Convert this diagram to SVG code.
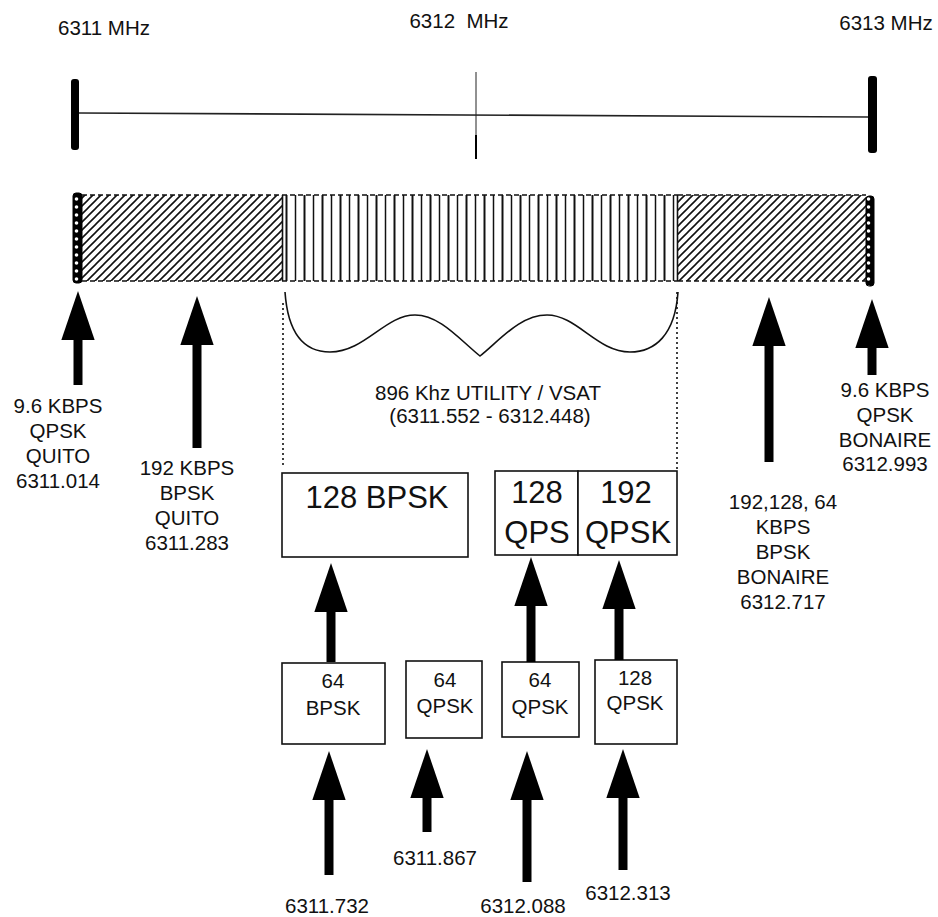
<svg xmlns="http://www.w3.org/2000/svg" width="938" height="917" viewBox="0 0 938 917">
<style>
text{font-family:"Liberation Sans",Arial,sans-serif;fill:#111;text-anchor:middle}
.s{font-size:20.5px}
.b{font-size:31px}
.box{fill:#fff;stroke:#111;stroke-width:1.6}
.shaft{stroke:#000;stroke-width:9;fill:none;marker-end:url(#head)}
.dash{stroke:#111;stroke-width:1.5;stroke-dasharray:5 3;fill:none}
.dot{stroke:#111;stroke-width:1.6;stroke-dasharray:2 3;fill:none}
</style>
<defs>
<marker id="head" markerUnits="userSpaceOnUse" markerWidth="50" markerHeight="36" refX="0" refY="16" orient="auto" viewBox="0 0 48 32">
<path d="M0,0 L47,16 L0,32 z" fill="#000"/>
</marker>
<pattern id="hatch" patternUnits="userSpaceOnUse" width="8" height="8">
<path d="M0,8 L8,0 M-2,2 L2,-2 M6,10 L10,6" stroke="#111" stroke-width="1.6"/>
</pattern>
<pattern id="vlines" patternUnits="userSpaceOnUse" x="282" y="0" width="18" height="10">
<path d="M4.5,0 V10" stroke="#111" stroke-width="2"/>
<path d="M13.5,0 V10" stroke="#111" stroke-width="1.5"/>
</pattern>
<pattern id="dots" patternUnits="userSpaceOnUse" x="0" y="195" width="9" height="8">
<rect width="9" height="8" fill="#000"/>
<circle cx="4.5" cy="4" r="1.8" fill="#fff"/>
</pattern>
</defs>

<g id="axis">
<line x1="79" y1="113" x2="868" y2="117" stroke="#222" stroke-width="1.6"/>
<rect x="71" y="79" width="8" height="71" rx="3" fill="#000"/>
<rect x="868" y="76" width="9" height="77" rx="3" fill="#000"/>
<line x1="476" y1="72" x2="476" y2="159" stroke="#222" stroke-width="1"/>
<line x1="476" y1="135" x2="476" y2="159" stroke="#000" stroke-width="2"/>
<text class="s" x="104" y="35">6311 MHz</text>
<text class="s" x="459" y="28" xml:space="preserve">6312  MHz</text>
<text class="s" x="886" y="30">6313 MHz</text>
</g>

<g id="band">
<rect x="82" y="195" width="200" height="86" fill="url(#hatch)"/>
<path class="dash" d="M82,195 H282 M82,281 H282"/>
<rect x="282" y="195" width="396" height="86" fill="url(#vlines)"/>
<path class="dash" d="M282,195 H678 M282,281 H678"/>
<line x1="282.5" y1="195" x2="282.5" y2="281" stroke="#111" stroke-width="1.6"/>
<line x1="677.5" y1="195" x2="677.5" y2="281" stroke="#111" stroke-width="1.6"/>
<rect x="678" y="195" width="188" height="86" fill="url(#hatch)"/>
<path class="dash" d="M678,195 H866 M678,281 H866"/>
<rect x="73" y="193" width="9" height="90" rx="3" fill="url(#dots)" stroke="#000" stroke-width="1"/>
<rect x="866" y="196" width="8" height="90" rx="3" fill="url(#dots)" stroke="#000" stroke-width="1"/>
</g>

<g id="utility">
<path d="M285,292 C288,335 305,352 330,352 C365,352 385,315 415,315 C440,315 460,340 480,356 C500,340 520,315 547,315 C577,315 597,352 630,352 C655,352 675,335 678,292" fill="none" stroke="#111" stroke-width="1.6"/>
<line class="dot" x1="283" y1="303" x2="283" y2="465"/>
<line class="dot" x1="677" y1="292" x2="677" y2="471"/>
<text class="s" x="488" y="400">896 Khz UTILITY / VSAT</text>
<text class="s" x="490" y="423">(6311.552 - 6312.448)</text>
</g>

<g id="box-128bpsk">
<rect class="box" x="282" y="473" width="186" height="84"/>
<text class="b" x="377" y="508">128 BPSK</text>
</g>
<g id="box-128qps">
<rect class="box" x="495" y="471" width="83" height="84"/>
<text class="b" x="537" y="503">128</text>
<text class="b" x="537" y="543">QPS</text>
</g>
<g id="box-192qpsk">
<rect class="box" x="578" y="471" width="99" height="84"/>
<text class="b" x="626" y="503">192</text>
<text class="b" x="628" y="543">QPSK</text>
</g>

<g id="box-64bpsk">
<rect class="box" x="282" y="663" width="103" height="81"/>
<text class="s" x="333" y="688">64</text>
<text class="s" x="333" y="715">BPSK</text>
</g>
<g id="box-64qpsk-a">
<rect class="box" x="406" y="661" width="76" height="77"/>
<text class="s" x="445" y="687">64</text>
<text class="s" x="445" y="713">QPSK</text>
</g>
<g id="box-64qpsk-b">
<rect class="box" x="502" y="662" width="77" height="75"/>
<text class="s" x="540" y="687">64</text>
<text class="s" x="540" y="714">QPSK</text>
</g>
<g id="box-128qpsk">
<rect class="box" x="595" y="660" width="82" height="84"/>
<text class="s" x="635" y="685">128</text>
<text class="s" x="635" y="710">QPSK</text>
</g>

<g id="label-quito-96">
<text class="s" x="58" y="413">9.6 KBPS</text>
<text class="s" x="58" y="438">QPSK</text>
<text class="s" x="58" y="463">QUITO</text>
<text class="s" x="58" y="488">6311.014</text>
</g>
<g id="label-quito-192">
<text class="s" x="187" y="475">192 KBPS</text>
<text class="s" x="187" y="500">BPSK</text>
<text class="s" x="187" y="525">QUITO</text>
<text class="s" x="187" y="550">6311.283</text>
</g>
<g id="label-bonaire-192">
<text class="s" x="783" y="509">192,128, 64</text>
<text class="s" x="783" y="534">KBPS</text>
<text class="s" x="783" y="559">BPSK</text>
<text class="s" x="783" y="584">BONAIRE</text>
<text class="s" x="783" y="609">6312.717</text>
</g>
<g id="label-bonaire-96">
<text class="s" x="885" y="397">9.6 KBPS</text>
<text class="s" x="885" y="422">QPSK</text>
<text class="s" x="885" y="447">BONAIRE</text>
<text class="s" x="885" y="471">6312.993</text>
</g>
<g id="freq-labels">
<text class="s" x="327" y="913">6311.732</text>
<text class="s" x="435" y="865">6311.867</text>
<text class="s" x="523" y="913">6312.088</text>
<text class="s" x="628" y="900">6312.313</text>
</g>

<g id="connectors">
<line class="shaft" x1="78" y1="385" x2="78" y2="340"/>
<line class="shaft" x1="197" y1="448" x2="197" y2="345"/>
<line class="shaft" x1="769" y1="462" x2="769" y2="346"/>
<line class="shaft" x1="872" y1="375" x2="872" y2="348"/>
<line class="shaft" x1="331" y1="662" x2="331" y2="612"/>
<line class="shaft" x1="531" y1="662" x2="531" y2="606"/>
<line class="shaft" x1="619" y1="660" x2="619" y2="609"/>
<line class="shaft" x1="329" y1="875" x2="329" y2="800"/>
<line class="shaft" x1="427" y1="832" x2="427" y2="798"/>
<line class="shaft" x1="527" y1="882" x2="527" y2="800"/>
<line class="shaft" x1="623" y1="870" x2="623" y2="798"/>
</g>
</svg>
